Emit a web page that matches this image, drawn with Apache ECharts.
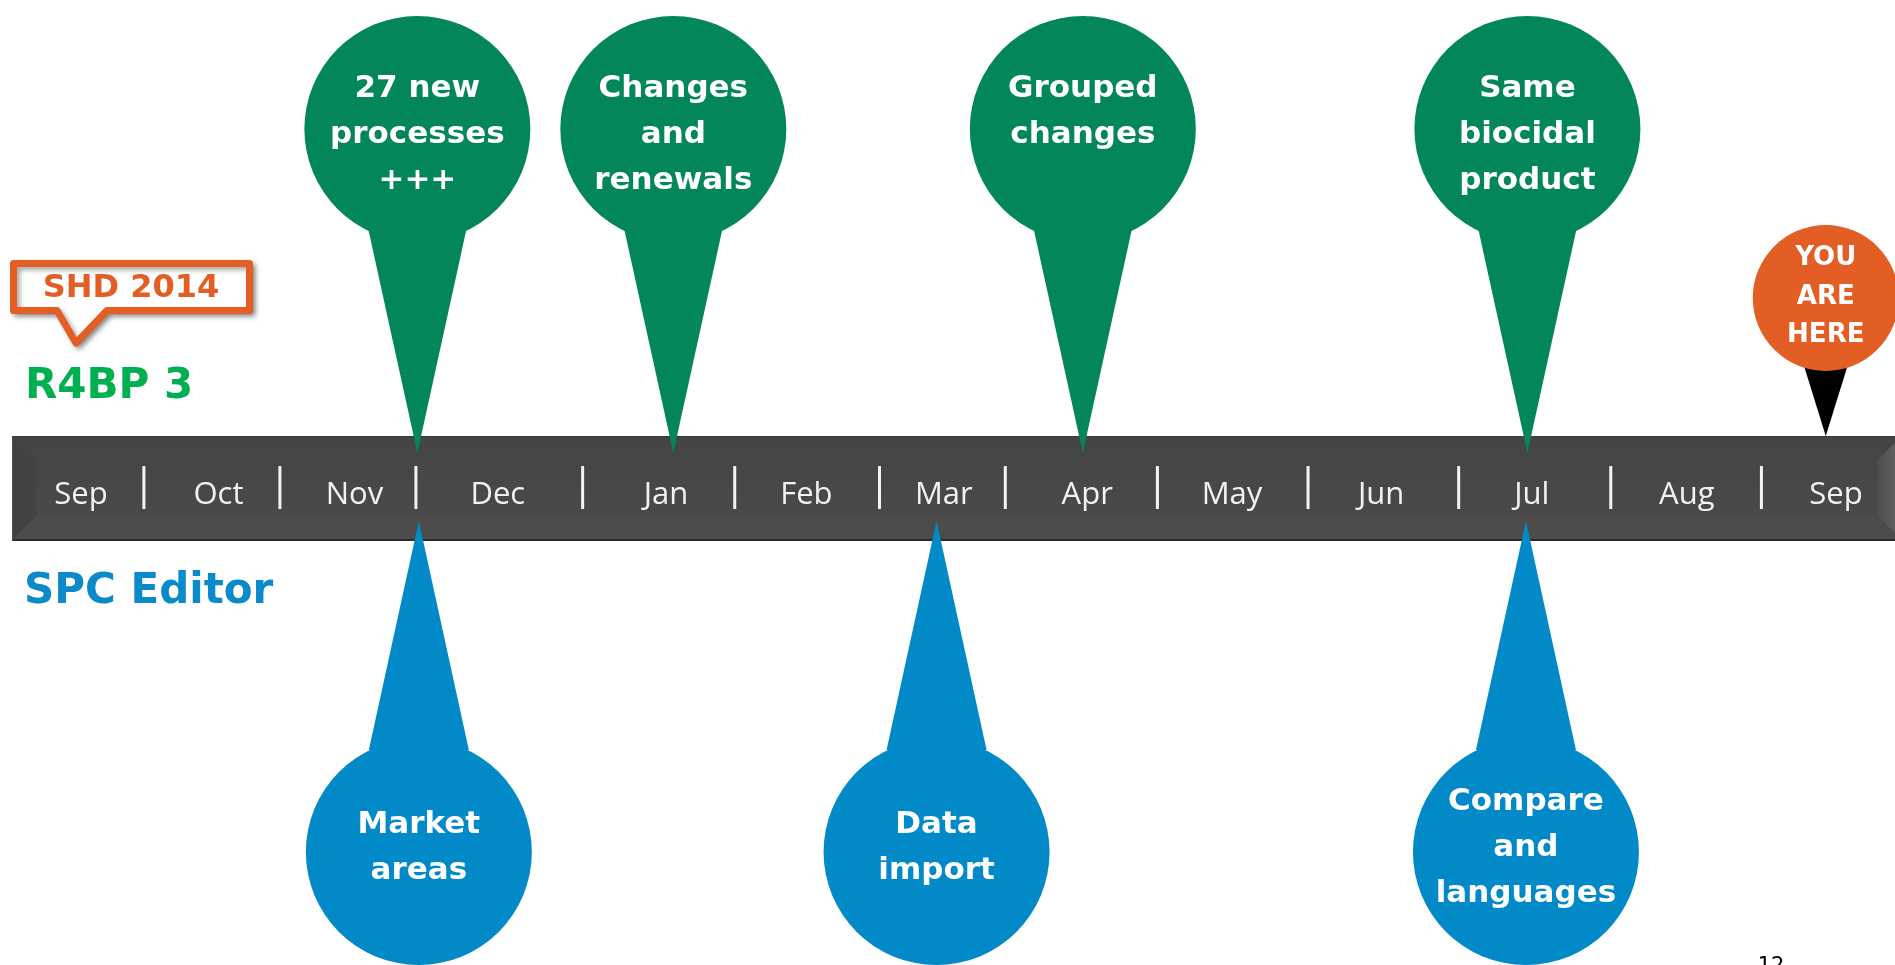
<!DOCTYPE html>
<html>
<head>
<meta charset="utf-8">
<title>R4BP 3 / SPC Editor timeline</title>
<script src="https://cdn.jsdelivr.net/npm/echarts@6/dist/echarts.min.js"></script>
<style>
  html, body { margin: 0; padding: 0; background: #fff; overflow: hidden; }
  #chart { width: 1895px; height: 965px; }
</style>
</head>
<body>
<div id="chart"></div>
<script>
// 月份（以第一个 Sep 为 0，单位：月）
const months = ['Sep', 'Oct', 'Nov', 'Dec', 'Jan', 'Feb', 'Mar', 'Apr', 'May', 'Jun', 'Jul', 'Aug', 'Sep']
const monthPos = [0, 0.94, 1.87, 2.85, 4.0, 4.96, 5.9, 6.88, 7.87, 8.89, 9.92, 10.98, 12]
const dividerPos = [0.43, 1.36, 2.29, 3.43, 4.47, 5.46, 6.32, 7.36, 8.39, 9.42, 10.46, 11.49]
const barRange = [-0.47, 12.45]

// R4BP 3 里程碑（上方）
const r4bpLabels = ['27 new\nprocesses\n+++', 'Changes\nand\nrenewals', 'Grouped\nchanges', 'Same\nbiocidal\nproduct']
const r4bpPos = [2.3, 4.05, 6.85, 9.89]

// SPC Editor 里程碑（下方）
const spcLabels = ['Market\nareas', 'Data\nimport', 'Compare\nand\nlanguages']
const spcPos = [2.31, 5.85, 9.88]

// 当前位置
const hereLabels = ['YOU\nARE\nHERE']
const herePos = [11.93]

// 颜色 / 布局
const GREEN = '#02865a'
const BLUE = '#0189c8'
const ORANGE = '#e35e25'
const BAR_TOP = 436
const BAR_BOTTOM = 540
const PIN_R = 113
const BOLD = '"DejaVu Sans", Verdana, sans-serif'

const chart = echarts.init(document.getElementById('chart'))

// 时间轴底条
const renderBar = (params, api) => {
  const x0 = api.coord([api.value(0), 0])[0]
  const x1 = api.coord([api.value(1), 0])[0]
  const b = 24
  return {
    type: 'group',
    children: [
      {
        type: 'rect',
        shape: { x: x0, y: BAR_TOP, width: x1 - x0, height: BAR_BOTTOM - BAR_TOP },
        style: {
          fill: new echarts.graphic.LinearGradient(0, 0, 0, 1, [
            { offset: 0, color: '#444444' },
            { offset: 1, color: '#4b4b4b' }
          ])
        }
      },
      {
        type: 'polygon',
        shape: { points: [[x0, BAR_BOTTOM], [x0 + b, BAR_BOTTOM - b], [x1 - b, BAR_BOTTOM - b], [x1, BAR_BOTTOM]] },
        style: { fill: '#4c4c4c' }
      },
      {
        type: 'polygon',
        shape: { points: [[x0, BAR_TOP], [x0 + b, BAR_TOP + b], [x0 + b, BAR_BOTTOM - b], [x0, BAR_BOTTOM]] },
        style: { fill: '#434343' }
      },
      {
        type: 'polygon',
        shape: { points: [[x1, BAR_TOP], [x1 - b, BAR_TOP + b], [x1 - b, BAR_BOTTOM - b], [x1, BAR_BOTTOM]] },
        style: {
          fill: new echarts.graphic.LinearGradient(0, 0, 1, 0, [
            { offset: 0, color: '#4e4e4e' },
            { offset: 1, color: '#666666' }
          ])
        }
      },
      { type: 'line', shape: { x1: x0, y1: BAR_TOP + 0.5, x2: x1, y2: BAR_TOP + 0.5 }, style: { stroke: '#3a3a3a', lineWidth: 1 } },
      { type: 'line', shape: { x1: x0, y1: BAR_BOTTOM, x2: x1, y2: BAR_BOTTOM }, style: { stroke: '#2c2c2c', lineWidth: 2 } }
    ]
  }
}

// 分隔竖线
const renderDivider = (params, api) => {
  const x = api.coord([api.value(0), 0])[0]
  return {
    type: 'line',
    shape: { x1: x, y1: 466, x2: x, y2: 509 },
    style: { stroke: '#f4f4f4', lineWidth: 3 }
  }
}

// 月份文字
const renderMonth = (params, api) => {
  const x = api.coord([api.value(0), 0])[0]
  return {
    type: 'text',
    style: {
      text: months[params.dataIndex],
      x,
      y: 495,
      align: 'center',
      verticalAlign: 'middle',
      fill: '#f2f2f2',
      font: '31px "Open Sans", sans-serif'
    }
  }
}

// 上方绿色图钉
const renderPinAbove = (params, api) => {
  const x = api.coord([api.value(0), 0])[0]
  return {
    type: 'group',
    children: [
      { type: 'polygon', shape: { points: [[x - 50, 225], [x + 50, 225], [x, 453]] }, style: { fill: GREEN } },
      { type: 'circle', shape: { cx: x, cy: 129, r: PIN_R }, style: { fill: GREEN } },
      {
        type: 'text',
        style: {
          text: r4bpLabels[params.dataIndex],
          x,
          y: 66,
          align: 'center',
          verticalAlign: 'top',
          lineHeight: 46,
          fill: '#fff',
          font: 'bold 31px ' + BOLD
        }
      }
    ]
  }
}

// 下方蓝色图钉
const renderPinBelow = (params, api) => {
  const x = api.coord([api.value(0), 0])[0]
  return {
    type: 'group',
    children: [
      { type: 'polygon', shape: { points: [[x - 50, 750], [x + 50, 750], [x, 521]] }, style: { fill: BLUE } },
      { type: 'circle', shape: { cx: x, cy: 852, r: PIN_R }, style: { fill: BLUE } },
      {
        type: 'text',
        style: {
          text: spcLabels[params.dataIndex],
          x,
          y: 848,
          align: 'center',
          verticalAlign: 'middle',
          lineHeight: 46,
          fill: '#fff',
          font: 'bold 31px ' + BOLD
        }
      }
    ]
  }
}

// YOU ARE HERE
const renderHere = (params, api) => {
  const x = api.coord([api.value(0), 0])[0]
  return {
    type: 'group',
    children: [
      { type: 'polygon', shape: { points: [[x - 23, 362], [x + 23, 362], [x, BAR_TOP]] }, style: { fill: '#000' } },
      { type: 'circle', shape: { cx: x, cy: 298, r: 73 }, style: { fill: ORANGE } },
      {
        type: 'text',
        style: {
          text: hereLabels[params.dataIndex],
          x,
          y: 297,
          align: 'center',
          verticalAlign: 'middle',
          lineHeight: 38.5,
          fill: '#fff',
          font: 'bold 26px ' + BOLD
        }
      }
    ]
  }
}

const option = {
  animation: false,
  backgroundColor: '#fff',
  grid: { left: 81, right: 59, top: 0, bottom: 0 },
  xAxis: { type: 'value', min: 0, max: 12, show: false },
  yAxis: { type: 'value', min: 0, max: 1, show: false },
  graphic: [
    // SHD 2014 气泡
    {
      type: 'polygon',
      z: 10,
      shape: {
        points: [[13.5, 263.5], [249.5, 263.5], [249.5, 310.5], [107, 310.5], [76, 343], [57, 310.5], [13.5, 310.5]]
      },
      style: {
        fill: '#fff',
        stroke: ORANGE,
        lineWidth: 7,
        lineJoin: 'round',
        shadowBlur: 5,
        shadowOffsetX: 3,
        shadowOffsetY: 3,
        shadowColor: 'rgba(0,0,0,0.35)'
      }
    },
    {
      type: 'text',
      z: 11,
      style: {
        text: 'SHD 2014',
        x: 131,
        y: 289,
        align: 'center',
        verticalAlign: 'middle',
        fill: ORANGE,
        font: 'bold 32px ' + BOLD
      }
    },
    {
      type: 'text',
      z: 10,
      style: {
        text: 'R4BP 3',
        x: 25,
        y: 387,
        verticalAlign: 'middle',
        fill: '#00b050',
        font: 'bold 42px ' + BOLD
      }
    },
    {
      type: 'text',
      z: 10,
      style: {
        text: 'SPC Editor',
        x: 24,
        y: 592,
        verticalAlign: 'middle',
        fill: '#0a8ac8',
        font: 'bold 42px ' + BOLD
      }
    },
    {
      type: 'text',
      z: 10,
      style: {
        text: '12',
        x: 1771,
        y: 956,
        align: 'center',
        verticalAlign: 'top',
        fill: '#000',
        font: '21px "DejaVu Sans", sans-serif'
      }
    }
  ],
  series: [
    { type: 'custom', z: 1, silent: true, renderItem: renderBar, data: [[barRange[0], barRange[1]]] },
    { type: 'custom', z: 2, silent: true, renderItem: renderDivider, data: dividerPos.map(v => [v, 0]) },
    { type: 'custom', z: 2, silent: true, renderItem: renderMonth, data: monthPos.map(v => [v, 0]) },
    { type: 'custom', z: 3, silent: true, renderItem: renderPinAbove, data: r4bpPos.map(v => [v, 0]) },
    { type: 'custom', z: 3, silent: true, renderItem: renderPinBelow, data: spcPos.map(v => [v, 0]) },
    { type: 'custom', z: 3, silent: true, renderItem: renderHere, data: herePos.map(v => [v, 0]) }
  ]
}

chart.setOption(option)
window.addEventListener('resize', () => chart.resize())
</script>
</body>
</html>
